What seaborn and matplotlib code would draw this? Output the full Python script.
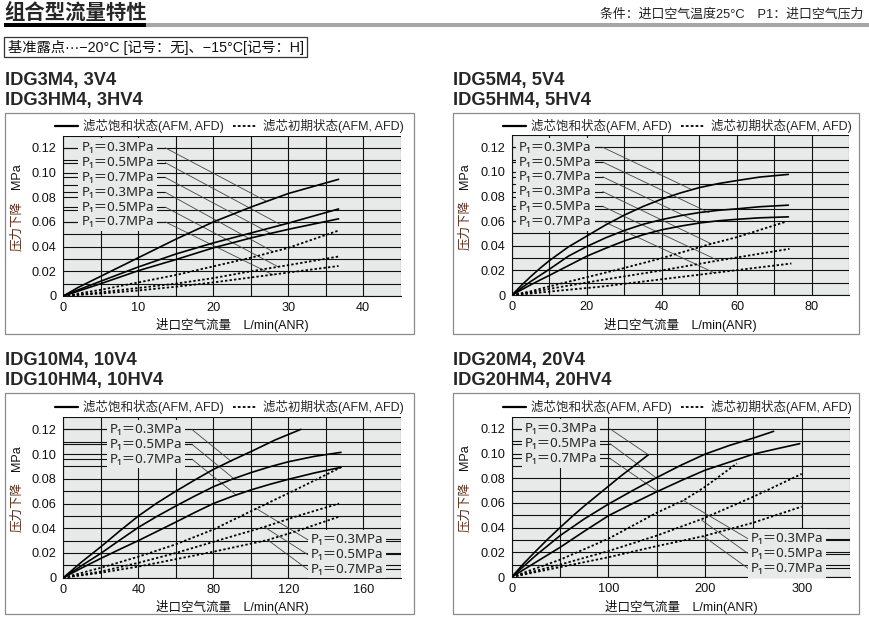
import matplotlib
matplotlib.use("Agg")
import matplotlib.pyplot as plt
from matplotlib.lines import Line2D
from matplotlib.patches import Rectangle
import seaborn as sns

sns.set_style("white")
plt.rcParams['font.family'] = ['Liberation Sans', 'Noto Sans CJK SC', 'DejaVu Sans']
plt.rcParams['axes.unicode_minus'] = True

# ---------------- data ----------------
P_LABELS = ["P₁＝0.3MPa", "P₁＝0.5MPa", "P₁＝0.7MPa"]
LEGEND_SAT = "滤芯饱和状态(AFM, AFD)"
LEGEND_INI = "滤芯初期状态(AFM, AFD)"
X_LABEL = "进口空气流量　L/min(ANR)"
Y_LABEL_CN = "压力下降"
Y_LABEL_UNIT = "MPa"
Y_TICKS = [0, 0.02, 0.04, 0.06, 0.08, 0.10, 0.12]
Y_TICK_LABELS = ["0", "0.02", "0.04", "0.06", "0.08", "0.10", "0.12"]

# Panel A : IDG3
A_TITLE = ["IDG3M4, 3V4", "IDG3HM4, 3HV4"]
A_XTICKS = [0, 10, 20, 30, 40]
A_X_SAT = [0, 2, 5, 10, 15, 20, 25, 30, 36.7]
A_SAT_03 = [0, 0.007, 0.016, 0.031, 0.046, 0.060, 0.072, 0.083, 0.0945]
A_SAT_05 = [0, 0.005, 0.012, 0.0235, 0.034, 0.043, 0.051, 0.059, 0.0705]
A_SAT_07 = [0, 0.004, 0.010, 0.0205, 0.0295, 0.039, 0.047, 0.054, 0.0625]
A_X_INI = [0, 2, 5, 10, 15, 20, 25, 30, 36.7]
A_INI_03 = [0, 0.002, 0.005, 0.011, 0.017, 0.024, 0.031, 0.039, 0.053]
A_INI_05 = [0, 0.001, 0.003, 0.0065, 0.010, 0.0145, 0.020, 0.025, 0.032]
A_INI_07 = [0, 0.001, 0.002, 0.0045, 0.0075, 0.011, 0.015, 0.019, 0.0243]
A_LABEL_Y = [0.12, 0.108, 0.096, 0.084, 0.072, 0.060]
A_LEADER_END_X = [27.0, 29.0, 27.6, 28.0, 28.7, 28.0]
A_LEADER_END_Y = [0.077, 0.0577, 0.0508, 0.0358, 0.0235, 0.017]

# Panel B : IDG5
B_TITLE = ["IDG5M4, 5V4", "IDG5HM4, 5HV4"]
B_XTICKS = [0, 20, 40, 60, 80]
B_X_SAT = [0, 2.5, 5, 7.5, 10, 15, 20, 25, 30, 35, 40, 45, 50, 55, 60, 66, 73.7]
B_SAT_03 = [0, 0.0078, 0.015, 0.0218, 0.028, 0.039, 0.048, 0.057, 0.065, 0.072,
            0.078, 0.083, 0.0873, 0.0905, 0.093, 0.0958, 0.098]
B_SAT_05 = [0, 0.0057, 0.011, 0.016, 0.021, 0.0315, 0.0395, 0.0465, 0.0525, 0.0575,
            0.0613, 0.0645, 0.067, 0.0688, 0.070, 0.0717, 0.073]
B_SAT_07 = [0, 0.0042, 0.0083, 0.0122, 0.016, 0.0238, 0.0316, 0.038, 0.044, 0.049,
            0.053, 0.056, 0.0585, 0.0603, 0.0615, 0.0627, 0.0635]
B_X_INI_03 = [0, 5, 10, 20, 30, 40, 53, 60, 73]
B_INI_03 = [0, 0.003, 0.007, 0.0145, 0.022, 0.030, 0.0415, 0.047, 0.0595]
B_X_INI_05 = [0, 5, 10, 23.5, 40, 55, 74]
B_INI_05 = [0, 0.002, 0.005, 0.012, 0.020, 0.028, 0.0375]
B_X_INI_07 = [0, 5, 10, 23.5, 40, 54, 74.5]
B_INI_07 = [0, 0.0012, 0.0028, 0.0067, 0.0128, 0.018, 0.0256]
B_LABEL_Y = [0.12, 0.108, 0.096, 0.084, 0.072, 0.060]
B_LEADER_END_X = [48, 52.5, 50, 53.2, 55, 54]
B_LEADER_END_Y = [0.0855, 0.067, 0.0585, 0.0415, 0.028, 0.018]

# Panel C : IDG10
C_TITLE = ["IDG10M4, 10V4", "IDG10HM4, 10HV4"]
C_XTICKS = [0, 40, 80, 120, 160]
C_X_SAT_03 = [0, 10, 20, 30, 40, 50, 60, 70, 80, 90, 100, 113, 126.6]
C_SAT_03 = [0, 0.013, 0.025, 0.0377, 0.0499, 0.0605, 0.070, 0.079, 0.0876, 0.095,
            0.102, 0.1115, 0.120]
C_X_SAT = [0, 10, 20, 30, 40, 50, 60, 70, 80, 90, 100, 110, 120, 134, 148]
C_SAT_05 = [0, 0.010, 0.0197, 0.0303, 0.0407, 0.0497, 0.058, 0.066, 0.0736, 0.0797,
            0.085, 0.0897, 0.0938, 0.0982, 0.1014]
C_SAT_07 = [0, 0.008, 0.0156, 0.0229, 0.030, 0.0375, 0.045, 0.0527, 0.060, 0.0658,
            0.071, 0.0755, 0.0796, 0.0848, 0.0893]
C_X_INI_03 = [0, 20, 40, 60, 80, 103, 125, 148]
C_INI_03 = [0, 0.008, 0.017, 0.027, 0.039, 0.056, 0.072, 0.0893]
C_X_INI_05 = [0, 20, 40, 60, 80, 107, 125, 147]
C_INI_05 = [0, 0.005, 0.012, 0.020, 0.029, 0.041, 0.050, 0.060]
C_X_INI_07 = [0, 20, 40, 60, 80, 109, 125, 147]
C_INI_07 = [0, 0.004, 0.009, 0.015, 0.021, 0.0305, 0.038, 0.0494]
C_UP_LABEL_Y = [0.12, 0.108, 0.096]
C_UP_END_X = [89.6, 91, 92]
C_UP_END_Y = [0.094, 0.080, 0.067]
C_LO_LABEL_Y = [0.031, 0.019, 0.007]
C_LO_END_X = [102.8, 107.2, 109]
C_LO_END_Y = [0.056, 0.041, 0.0305]

# Panel D : IDG20
D_TITLE = ["IDG20M4, 20V4", "IDG20HM4, 20HV4"]
D_XTICKS = [0, 100, 200, 300]
D_X_SAT_03 = [0, 12.5, 25, 37.5, 50, 62.5, 75, 87.5, 100, 112.5, 125, 141.4]
D_SAT_03 = [0, 0.011, 0.021, 0.0308, 0.040, 0.049, 0.0575, 0.0655, 0.0735, 0.0815,
            0.089, 0.099]
D_X_SAT_05 = [0, 25, 50, 75, 100, 125, 150, 175, 200, 225, 250, 271]
D_SAT_05 = [0, 0.0175, 0.0335, 0.047, 0.059, 0.070, 0.0805, 0.0905, 0.0995, 0.1065,
            0.1125, 0.118]
D_X_SAT_07 = [0, 25, 50, 75, 100, 125, 150, 175, 200, 225, 250, 275, 298]
D_SAT_07 = [0, 0.012, 0.024, 0.037, 0.0496, 0.0595, 0.069, 0.078, 0.0865, 0.093,
            0.0995, 0.104, 0.108]
D_X_INI_03 = [0, 50, 100, 150, 177.6, 200, 233]
D_INI_03 = [0, 0.014, 0.031, 0.052, 0.062, 0.073, 0.092]
D_X_INI_05 = [0, 50, 100, 150, 197, 250, 300]
D_INI_05 = [0, 0.010, 0.021, 0.0335, 0.047, 0.065, 0.0835]
D_X_INI_07 = [0, 50, 100, 150, 198, 250, 300]
D_INI_07 = [0, 0.008, 0.016, 0.025, 0.033, 0.044, 0.057]
D_UP_LABEL_Y = [0.12, 0.108, 0.096]
D_UP_END_X = [141.4, 150, 151.7]
D_UP_END_Y = [0.099, 0.080, 0.069]
D_LO_LABEL_Y = [0.031, 0.019, 0.007]
D_LO_END_X = [177.6, 196.6, 198.3]
D_LO_END_Y = [0.062, 0.046, 0.033]

# ---------------- layout helpers (pixel coordinates) ----------------
W, H = 870, 620
fig = plt.figure(figsize=(W / 100, H / 100), dpi=100)
fig.patch.set_facecolor("white")


def fx(x):
    return x / W


def fy(y):
    return 1 - y / H


def fig_line(x0, y0, x1, y1, **kw):
    fig.add_artist(Line2D([fx(x0), fx(x1)], [fy(y0), fy(y1)],
                          transform=fig.transFigure, **kw))


def fig_rect(x0, y0, x1, y1, **kw):
    fig.add_artist(Rectangle((fx(x0), fy(y1)), (x1 - x0) / W, (y1 - y0) / H,
                             transform=fig.transFigure, **kw))


BG = "#e8e9e9"
DOT = (0, (1.3, 1.2))
SOLID_LW = 1.2
DOT_LW = 1.3
LABEL_FS = 9.6
LABEL_FAMILY = ['Noto Sans', 'Noto Sans CJK SC', 'DejaVu Sans']
TXT_FS = 9.0
LEADER_KW = dict(color="#444444", lw=0.6, zorder=2.6)
LABEL_BOX = dict(boxstyle="square,pad=0.22", facecolor=BG, edgecolor="none")

# ---------------- header ----------------
fig.text(fx(4), fy(12.5), "组合型流量特性", fontsize=14.7, fontweight="bold",
         ha="left", va="center")
fig_rect(4, 22.7, 146, 26.7, facecolor="black", edgecolor="none")
fig_rect(146, 22.7, 870, 26.7, facecolor="#a6a6a6", edgecolor="none")
fig.text(fx(863), fy(14), "条件：进口空气温度25°C　P1：进口空气压力", fontsize=9.3,
         ha="right", va="center", color="#222222")
fig_rect(4, 37.3, 307, 56.7, facecolor="white", edgecolor="#333333", lw=0.9)
fig.text(fx(8), fy(47.5), "基准露点···−20°C [记号：无]、−15°C[记号：H]",
         fontsize=10.3, ha="left", va="center", color="#111111")


def draw_panel(box, axrect, xlim, xticks, xstep, titles, title_y, leg_y,
               sat, ini):
    bx0, by0, bx1, by1 = box
    fig_rect(bx0, by0, bx1, by1, facecolor="none", edgecolor="#8a8a8a", lw=0.9)
    for t, ty in zip(titles, title_y):
        fig.text(fx(bx0), fy(ty), t, fontsize=13.2, fontweight="bold",
                 ha="left", va="center")
    # legend row
    fig_line(bx0 + 50, leg_y, bx0 + 73, leg_y, color="black", lw=1.6)
    fig.text(fx(bx0 + 78), fy(leg_y), LEGEND_SAT, fontsize=TXT_FS,
             ha="left", va="center")
    fig_line(bx0 + 228, leg_y, bx0 + 252, leg_y, color="black", lw=1.3,
             linestyle=(0, (1.5, 1.2)))
    fig.text(fx(bx0 + 258), fy(leg_y), LEGEND_INI, fontsize=TXT_FS,
             ha="left", va="center")

    l, t, r, b = axrect
    ax = fig.add_axes([fx(l), fy(b), (r - l) / W, (b - t) / H])
    ax.set_facecolor(BG)
    for xs, ys in sat:
        sns.lineplot(x=xs, y=ys, ax=ax, color="black", linewidth=SOLID_LW,
                     estimator=None, sort=False, zorder=4)
    for xs, ys in ini:
        sns.lineplot(x=xs, y=ys, ax=ax, color="black", linewidth=DOT_LW,
                     estimator=None, sort=False, linestyle=DOT, zorder=4)
    ax.set_xlim(*xlim)
    ax.set_ylim(0, 0.13)
    ax.set_xticks(xticks)
    ax.set_xticklabels([str(v) for v in xticks])
    minor_x = []
    v = 0.0
    while v <= xlim[1] + 1e-9:
        minor_x.append(v)
        v += xstep
    ax.set_xticks(minor_x, minor=True)
    ax.set_yticks(Y_TICKS)
    ax.set_yticklabels(Y_TICK_LABELS)
    ax.set_yticks([i / 100 for i in range(0, 14)], minor=True)
    ax.set_axisbelow(True)
    ax.grid(True, which="both", color="#111111", lw=0.8)
    ax.tick_params(axis="x", which="both", length=0, pad=4.5, labelsize=9.2,
                   colors="#111111")
    ax.tick_params(axis="y", which="both", length=2.3, width=0.8, pad=2.5,
                   labelsize=9.2, colors="#111111", direction="out")
    for s in ["top", "right"]:
        ax.spines[s].set_visible(False)
    for s in ["left", "bottom"]:
        ax.spines[s].set_color("#111111")
        ax.spines[s].set_linewidth(0.8)
    ax.set_xlabel("")
    ax.set_ylabel("")
    # axis titles
    fig.text(fx((l + r) / 2), fy(b + 29.5), X_LABEL, fontsize=TXT_FS,
             ha="center", va="center", color="#111111")
    fig.text(fx(bx0 + 12), fy(t + 90), Y_LABEL_CN, fontsize=TXT_FS, rotation=90,
             ha="center", va="center", color="#5a2d1e")
    fig.text(fx(bx0 + 12), fy(t + 41), Y_LABEL_UNIT, fontsize=TXT_FS, rotation=90,
             ha="center", va="center", color="#111111")
    return ax


def label_block(ax, text_x, lead_x, ys, names, end_x, end_y, edge_x):
    for y, name, ex, ey in zip(ys, names, end_x, end_y):
        ax.plot([edge_x, lead_x], [y, y], color="#111111", lw=0.8, zorder=1.5)
        ax.text(text_x, y, name, fontsize=LABEL_FS, family=LABEL_FAMILY,
                ha="left", va="center", bbox=LABEL_BOX, zorder=3)
        ax.plot([lead_x, ex], [y, ey], **LEADER_KW)


# ---------------- Panel A ----------------
axA = draw_panel((5, 113, 414, 334), (63.3, 135.5, 400.8, 296), (0, 45), A_XTICKS, 5,
                 A_TITLE, (80, 100), 126,
                 [(A_X_SAT, A_SAT_03), (A_X_SAT, A_SAT_05), (A_X_SAT, A_SAT_07)],
                 [(A_X_INI, A_INI_03), (A_X_INI, A_INI_05), (A_X_INI, A_INI_07)])
label_block(axA, 2.4, 13.6, A_LABEL_Y, P_LABELS + P_LABELS,
            A_LEADER_END_X, A_LEADER_END_Y, 0)

# ---------------- Panel B ----------------
axB = draw_panel((453, 113, 859, 334), (512, 135, 849.5, 295), (0, 90), B_XTICKS, 10,
                 B_TITLE, (80, 100), 126,
                 [(B_X_SAT, B_SAT_03), (B_X_SAT, B_SAT_05), (B_X_SAT, B_SAT_07)],
                 [(B_X_INI_03, B_INI_03), (B_X_INI_05, B_INI_05), (B_X_INI_07, B_INI_07)])
label_block(axB, 1.9, 24.2, B_LABEL_Y, P_LABELS + P_LABELS,
            B_LEADER_END_X, B_LEADER_END_Y, 0)

# ---------------- Panel C ----------------
axC = draw_panel((5, 393, 414, 614), (63.3, 417, 401, 577.7), (0, 180), C_XTICKS, 20,
                 C_TITLE, (360, 381), 407,
                 [(C_X_SAT_03, C_SAT_03), (C_X_SAT, C_SAT_05), (C_X_SAT, C_SAT_07)],
                 [(C_X_INI_03, C_INI_03), (C_X_INI_05, C_INI_05), (C_X_INI_07, C_INI_07)])
label_block(axC, 24.6, 68.5, C_UP_LABEL_Y, P_LABELS, C_UP_END_X, C_UP_END_Y, 0)
label_block(axC, 132, 130, C_LO_LABEL_Y, P_LABELS, C_LO_END_X, C_LO_END_Y, 180)

# ---------------- Panel D ----------------
axD = draw_panel((453, 393, 859, 614), (511.7, 416.5, 850, 577), (0, 350), D_XTICKS, 50,
                 D_TITLE, (360, 381), 407,
                 [(D_X_SAT_03, D_SAT_03), (D_X_SAT_05, D_SAT_05), (D_X_SAT_07, D_SAT_07)],
                 [(D_X_INI_03, D_INI_03), (D_X_INI_05, D_INI_05), (D_X_INI_07, D_INI_07)])
label_block(axD, 13.8, 101.7, D_UP_LABEL_Y, P_LABELS, D_UP_END_X, D_UP_END_Y, 0)
label_block(axD, 247, 244.5, D_LO_LABEL_Y, P_LABELS, D_LO_END_X, D_LO_END_Y, 350)

fig.savefig("out.png", dpi=100, facecolor="white")
